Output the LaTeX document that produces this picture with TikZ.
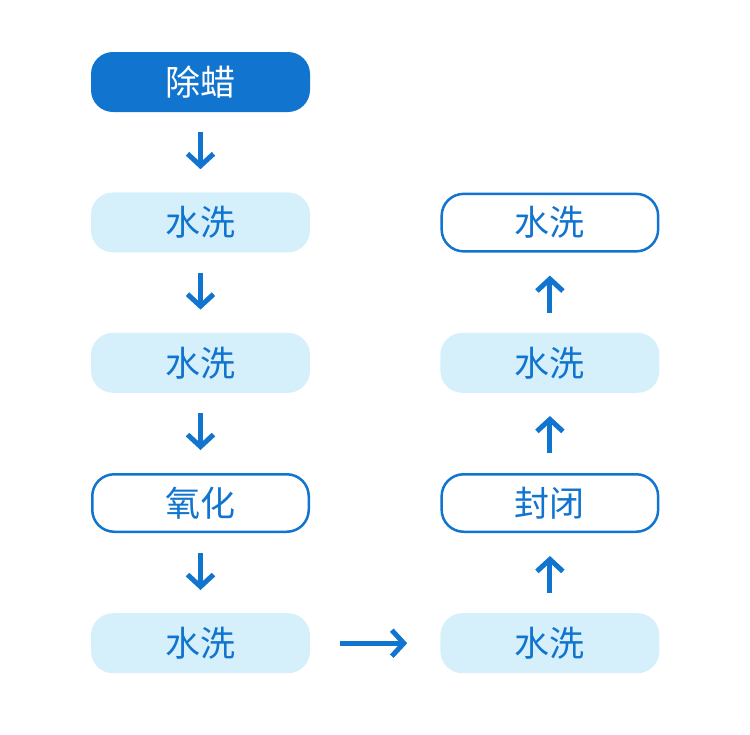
\documentclass[tikz,border=0pt]{standalone}
\usepackage{fontspec}
\setmainfont{Noto Sans CJK SC}
\usetikzlibrary{arrows.meta, positioning}
\definecolor{mainblue}{HTML}{1174CF}
\definecolor{paleblue}{HTML}{D5EFFB}

\begin{document}
\begin{tikzpicture}[
  x=1pt, y=1pt,
  node distance=80pt and 130pt,
  base/.style={rectangle, rounded corners=22pt, align=center, minimum width=219pt, minimum height=60pt, font=\fontsize{35}{40}\selectfont, inner sep=0pt},
  dark/.style={base, fill=mainblue, text=white},
  pale/.style={base, fill=paleblue, text=mainblue},
  outline/.style={base, draw=mainblue, line width=2.5pt, fill=white, text=mainblue, minimum width=216.5pt, minimum height=57.5pt},
  arrow/.style={-{Straight Barb[length=12pt, width=26pt, line width=5pt]}, line width=5pt, draw=mainblue}
]
\useasboundingbox (0,0) rectangle (750,-734);

\node[dark] (wax) at (200.5,-82) {除蜡};
\node[pale, below=of wax] (rinse1) {水洗};
\node[pale, below=of rinse1] (rinse2) {水洗};
\node[outline, below=of rinse2] (oxid) {氧化};
\node[pale, below=of oxid] (rinse3) {水洗};

\node[pale, right=of rinse3] (rinse4) {水洗};
\node[outline, above=of rinse4] (seal) {封闭};
\node[pale, above=of seal] (rinse5) {水洗};
\node[outline, above=of rinse5] (rinse6) {水洗};

\draw[arrow, shorten <=20pt, shorten >=23pt] (wax) -- (rinse1);
\draw[arrow, shorten <=20pt, shorten >=23pt] (rinse1) -- (rinse2);
\draw[arrow, shorten <=20pt, shorten >=23pt] (rinse2) -- (oxid);
\draw[arrow, shorten <=20pt, shorten >=23pt] (oxid) -- (rinse3);
\draw[arrow, shorten <=30pt, shorten >=33pt] (rinse3) -- (rinse4);
\draw[arrow, shorten <=20pt, shorten >=23pt] (rinse4) -- (seal);
\draw[arrow, shorten <=20pt, shorten >=23pt] (seal) -- (rinse5);
\draw[arrow, shorten <=20pt, shorten >=23pt] (rinse5) -- (rinse6);
\end{tikzpicture}
\end{document}
